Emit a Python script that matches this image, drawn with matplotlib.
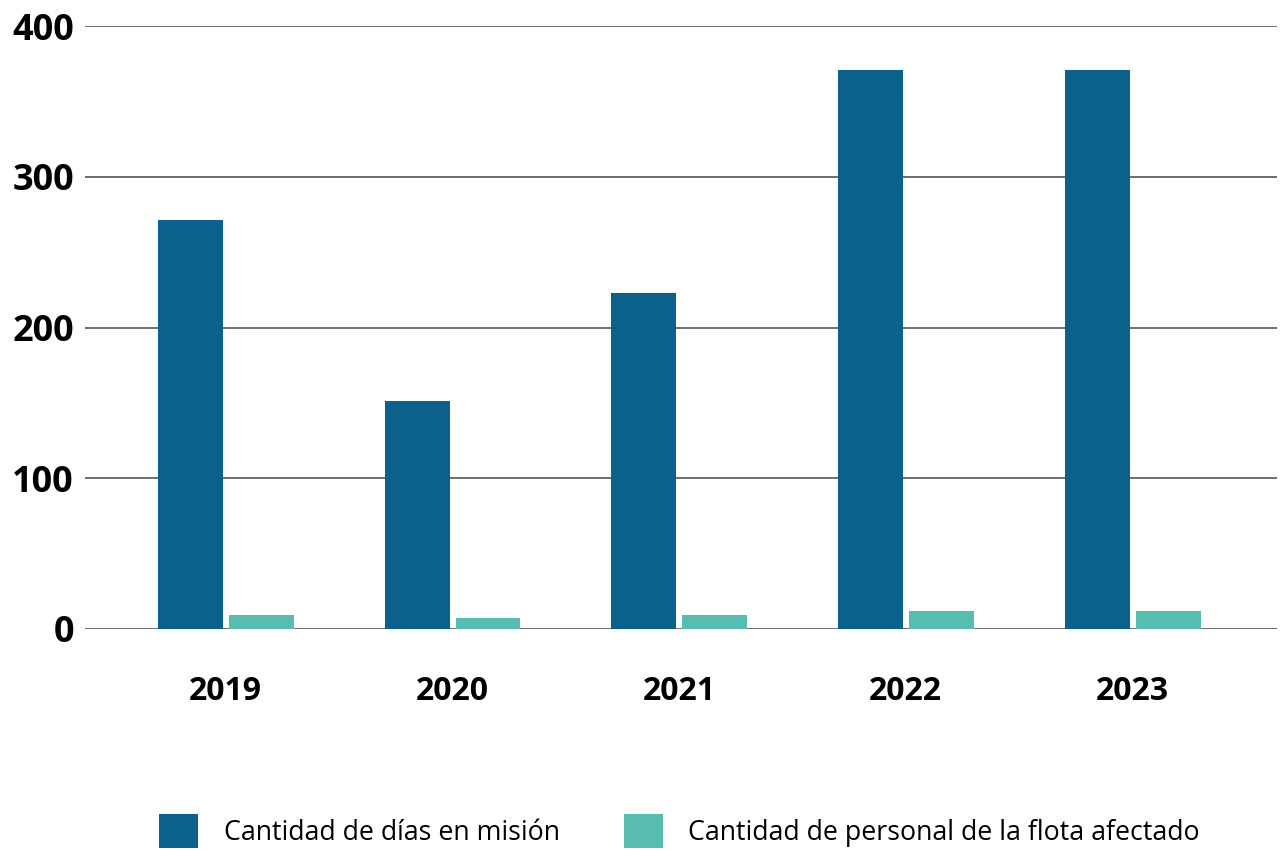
import matplotlib
matplotlib.use("Agg")
import matplotlib.pyplot as plt
import numpy as np

years = ["2019", "2020", "2021", "2022", "2023"]
dias_mision = [271, 151, 223, 371, 371]
personal_flota = [9, 7, 9, 12, 12]
series_labels = ["Cantidad de días en misión", "Cantidad de personal de la flota afectado"]
yticks = [0, 100, 200, 300, 400]

plt.rcParams['font.family'] = ['Open Sans', 'DejaVu Sans']

fig = plt.figure(figsize=(12.8, 8.51), dpi=100)
ax = fig.add_axes([0.0664, 0.2609, 0.9316, 0.7085])

x = np.arange(len(years))
w = 0.286
b1 = ax.bar(x - 0.155, dias_mision, width=w, color="#0a628c", zorder=3, label=series_labels[0])
b2 = ax.bar(x + 0.158, personal_flota, width=w, color="#56bdb0", zorder=3, label=series_labels[1])

ax.set_ylim(0, 400)
ax.set_xlim(-0.62, 4.64)
ax.set_yticks(yticks)
ax.set_yticklabels([str(v) for v in yticks], fontsize=26, fontweight='bold')
ax.set_xticks(x)
ax.set_xticklabels(years, fontsize=23, fontweight='bold')
ax.tick_params(axis='both', length=0, colors='black')
ax.tick_params(axis='y', pad=8)
ax.tick_params(axis='x', pad=33)
ax.grid(axis='y', color='#555555', linewidth=1.2, zorder=0)
for s in ax.spines.values():
    s.set_visible(False)

fig.legend(handles=[b1, b2], labels=series_labels, loc='upper center',
           bbox_to_anchor=(0.531, 0.0435), ncol=2, frameon=False, fontsize=19.3,
           handlelength=1.44, handleheight=1.55, handletextpad=0.96,
           columnspacing=2.4, borderaxespad=0, borderpad=0)

fig.savefig("out.png", dpi=100)
